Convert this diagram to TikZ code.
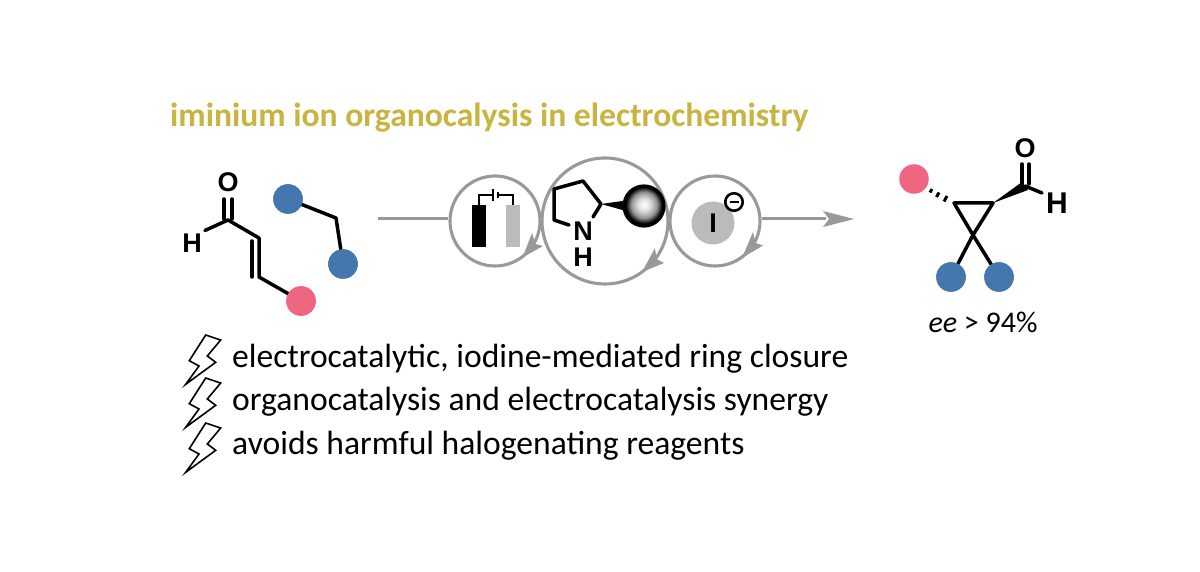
\documentclass[tikz,border=0pt]{standalone}
\usepackage{fontspec}
\setmainfont{Carlito}
\newfontfamily\chemfont{Liberation Sans}
\definecolor{dotblue}{HTML}{4477AD}
\definecolor{dotpink}{HTML}{EE6680}
\definecolor{ringgray}{HTML}{999999}
\definecolor{titlegold}{HTML}{C8B440}
\definecolor{cellgray}{HTML}{BBBBBB}
\pgfdeclareradialshading{sphereshade}{\pgfpoint{0bp}{2bp}}{color(0bp)=(white);color(8bp)=(gray!25);color(17bp)=(gray!85);color(24bp)=(black);color(50bp)=(black)}
\tikzset{
  x=1pt,y=-1pt,
  bondline/.style={line width=3.5pt,black,line cap=round,line join=round},
  hashline/.style={line width=3pt,black},
  bluedot/.style={circle,fill=dotblue,minimum size=29.5pt,inner sep=0pt},
  pinkdot/.style={circle,fill=dotpink,minimum size=29.5pt,inner sep=0pt},
  atomlabel/.style={font=\chemfont\bfseries\fontsize{27}{27}\selectfont,text=black,inner sep=0pt},
  ringnode/.style={circle,draw=ringgray,line width=3.1pt,inner sep=0pt},
  flowline/.style={ringgray,line width=3pt},
  headfill/.style={fill=ringgray,draw=none},
  bulletline/.style={anchor=base west,font=\fontsize{33.6}{33.6}\selectfont,text=black,inner sep=0pt},
  boltshape/.style={draw=black,fill=white,line width=1.6pt,line join=miter},
}
\newcommand{\boltat}[1]{%
  \draw[boltshape,shift={(0,#1)}] (205.7,335) -- (220.7,340) -- (207.3,356) -- (215.7,362.3) -- (185.7,384.3) -- (199,366) -- (189.3,360.7) -- cycle;}
\begin{document}
\begin{tikzpicture}
\useasboundingbox (0,0) rectangle (1200,572);
\fill[white] (0,0) rectangle (1200,572);

% title
\node[anchor=base west,inner sep=0pt,text=titlegold,font=\bfseries\fontsize{33.6}{33.6}\selectfont] (title) at (170,127) {iminium ion organocalysis in electrochemistry};

% left substrate
\node[atomlabel] (oa) at (228,182) {O};
\node[atomlabel] (ha) at (192,243) {H};
\coordinate (c1) at (228,220);
\coordinate (c2) at (259,238);
\coordinate (c3) at (259,277);
\node[pinkdot] (pa) at (301,301) {};
\node[bluedot] (ba) at (288,199) {};
\node[bluedot] (bb) at (343,264) {};
\coordinate (bend) at (336,218);
\draw[bondline] (ha.north east) ++(3,-3) -- (c1) -- (c2) -- (c3) -- (pa);
\draw[bondline] (252,241) -- (252,277);
\draw[bondline] (224,199) -- (224,219);
\draw[bondline] (232,199) -- (232,219);
\draw[bondline] (ba) -- (bend) -- (bb);
\node[pinkdot] at (pa) {};
\node[bluedot] at (ba) {};
\node[bluedot] at (bb) {};

% catalysis rings
\node[ringnode,minimum size=90pt] (cell) at (495,221) {};
\node[ringnode,minimum size=126pt] (cat) at (605,221) {};
\node[ringnode,minimum size=90pt] (iod) at (715,221) {};

\coordinate (ls) at (378,219);
\coordinate (re) at (854,219);
\draw[flowline] (ls) -- (cell.west |- ls);
\draw[flowline] (iod.east |- re) -- (826,219);
\fill[headfill] (re) -- (823,211) -- (829,219) -- (823,227) -- cycle;

% arc arrowheads
\fill[headfill] (522.5,257.5) -- (543,246) -- (535.5,244) -- (532,233) -- cycle;
\fill[headfill] (642,272) -- (664,263) -- (656.5,259) -- (655,248) -- cycle;
\fill[headfill] (742,258) -- (763,245.5) -- (755.5,243) -- (753,232) -- cycle;

% electrochemical cell
\node[fill=black,minimum width=14.5pt,minimum height=42pt,inner sep=0pt] (anode) at (479,226) {};
\node[fill=cellgray,minimum width=14.5pt,minimum height=42pt,inner sep=0pt] (cathode) at (513,226) {};
\coordinate (barl) at (493,195);
\coordinate (bars) at (498,195);
\draw[black,line width=2.8pt] (anode.north) -- (anode.north |- barl) -- (barl);
\draw[black,line width=2.8pt] (cathode.north) -- (cathode.north |- bars) -- (bars);
\draw[black,line width=2.8pt] (493,189) -- (493,201);
\draw[black,line width=2.8pt] (498,192) -- (498,198);

% pyrrolidine
\node[atomlabel] (nn) at (583,231) {N};
\node[atomlabel] (hn) at (583,257) {H};
\fill[black] (601,204) -- (626,200.5) -- (626,211) -- cycle;
\shade[shading=sphereshade] (644,206) circle (19);
\node[circle,draw=black,line width=3.2pt,minimum size=40pt,inner sep=0pt] (ball) at (644,206) {};
\coordinate (r1) at (554,189);
\coordinate (r2) at (583,181);
\coordinate (r3) at (601,204);
\coordinate (r4) at (554,220);
\draw[bondline] (593,217) -- (r3) -- (r2) -- (r1) -- (r4) -- (569,225);

% iodide
\node[circle,fill=cellgray,minimum size=43pt,inner sep=0pt] (idisc) at (713,223) {};
\node[atomlabel] at (idisc) {I};
\node[circle,draw=black,line width=2.6pt,minimum size=17.5pt,inner sep=0pt] (minus) at (734,202) {};
\draw[black,line width=2.6pt] (729.5,202) -- (738.5,202);

% product
\node[pinkdot] (pc) at (914,179) {};
\node[bluedot] (bc) at (951,277) {};
\node[bluedot] (bd) at (999,277) {};
\coordinate (cl) at (954,203);
\coordinate (cr) at (993,203);
\coordinate (cb) at (973,235);
\coordinate (cho) at (1025,186);
\node[atomlabel] (op) at (1025,148) {O};
\node[atomlabel,font=\chemfont\bfseries\fontsize{30}{30}\selectfont] (hp) at (1057,203) {H};
\draw[bondline,line cap=butt] (cl) -- (cr) -- (cb) -- cycle;
\draw[bondline] (cb) -- (bc);
\draw[bondline] (cb) -- (bd);
\node[bluedot] at (bc) {};
\node[bluedot] at (bd) {};
\fill[black] (cr) -- (1022,182) -- (1028,190) -- cycle;
\draw[bondline] (cho) -- (1042,193);
\draw[bondline] (1022,164) -- (1022,184);
\draw[bondline] (1029,164) -- (1029,184);
\draw[hashline] (947,196) -- (944,201.5);
\draw[hashline] (939,192.5) -- (936.5,197);
\draw[hashline] (932,189) -- (930,192.5);
\node[inner sep=0pt,font=\fontsize{30}{30}\selectfont,anchor=base] (ee) at (983,332) {\textit{ee} > 94\%};

% bullets
\boltat{0}
\boltat{43}
\boltat{88}
\node[bulletline] (t1) at (232,367) {electrocatalytic, iodine-mediated ring closure};
\node[bulletline] (t2) at (232,410) {organocatalysis and electrocatalysis synergy};
\node[bulletline] (t3) at (232,454) {avoids harmful halogenating reagents};
\end{tikzpicture}
\end{document}
